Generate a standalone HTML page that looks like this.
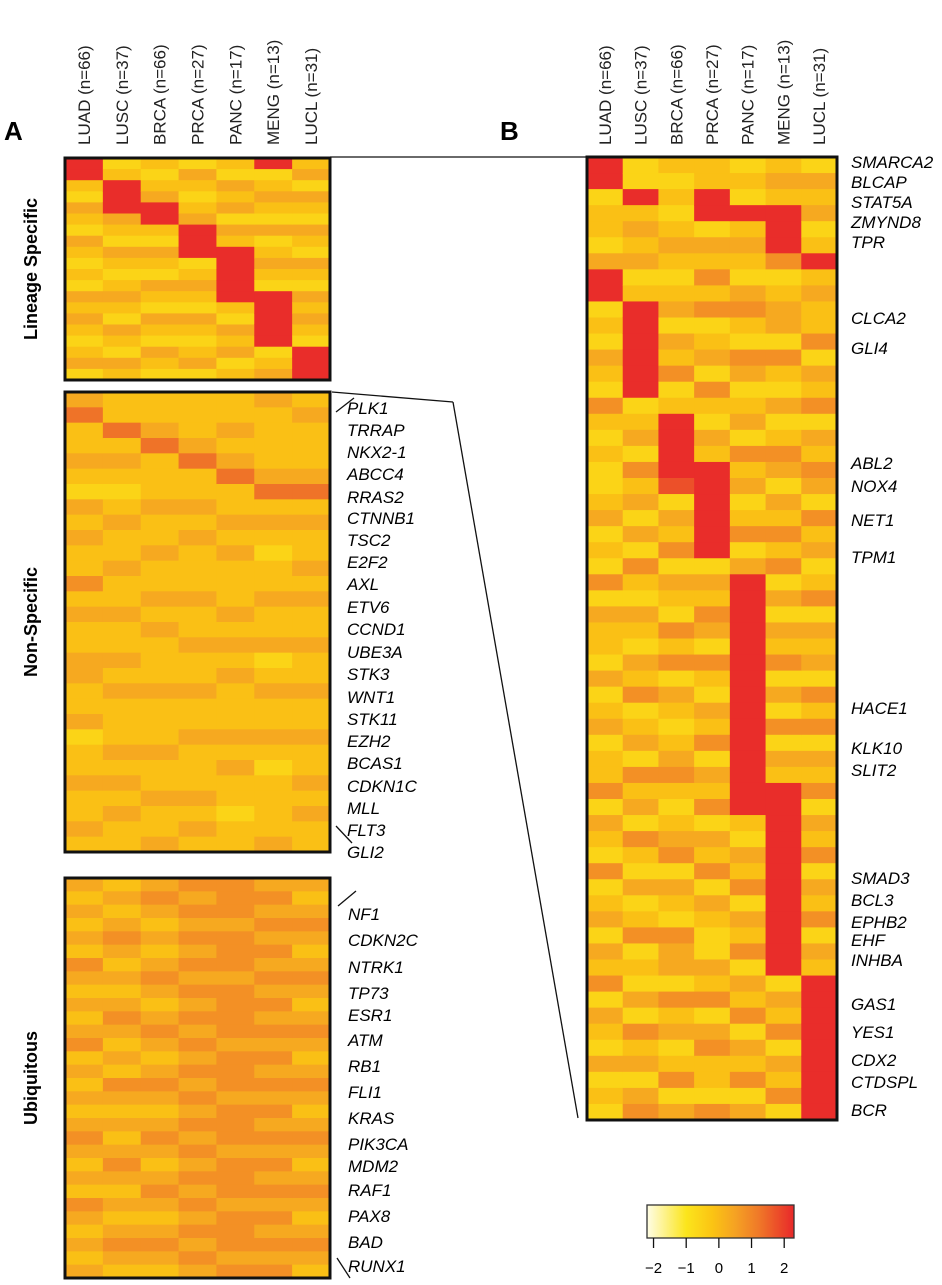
<!DOCTYPE html>
<html><head><meta charset="utf-8"><style>
body{margin:0;background:#fff;}
svg text{font-family:"Liberation Sans",sans-serif;}
</style></head><body>
<svg id="fig" width="942" height="1280" viewBox="0 0 942 1280" xmlns="http://www.w3.org/2000/svg">
<g id="cells"></g>
<g id="frames"></g>
<g id="labels"></g>
</svg>
<script>
const columns=["LUAD (n=66)","LUSC (n=37)","BRCA (n=66)","PRCA (n=27)","PANC (n=17)","MENG (n=13)","LUCL (n=31)"];
// digit d -> value -2 + d*0.47
const lineageVals=["99435435434354543453","34999543543454354354","43459943543543543543","35434599934543543453","43545354999994354534","93454353454399999345","45354354354354543999"];
const nonSpecVals=["574454354544645445544534454454","447454345445445445454445454544","445744454454454544454445445445","444574454544454454454454445454","445457445454445454544454544344","544445745434454453454454344445","454445745445454454454454454544"];
const ubiqVals=["545454654545645454565454654545","454565454565454654545654545654","565454565456545654565456545654","656565656565656565656565656565","666566656666566656665666566656","565656565656565656565656565656","545654565456545654565456545654"];
const panelBVals=[
"993443599343543643433453436354435345344635436345354635435343",
"339454534999999345364535364354354634536453643534634353645356",
"434345434535463499998354635436463543456434563543655364534635",
"449935464634536435499999935465364354635463546354335463564 36".replace(/ /g,"4"),
"343945435643653453645346359999999999999994354635463546354635",
"454999634553643534653546463535463536354999999999999354635463",
"354534945446354635465364534635453646354635463546354999999999"];
const geneNS=["PLK1","TRRAP","NKX2-1","ABCC4","RRAS2","CTNNB1","TSC2","E2F2","AXL","ETV6","CCND1","UBE3A","STK3","WNT1","STK11","EZH2","BCAS1","CDKN1C","MLL","FLT3","GLI2"];
const geneNSy=[408,430,452,474,497,518,540,562,584,607,629,652,674,697,719,741,763,786,808,830,852];
const geneUb=["NF1","CDKN2C","NTRK1","TP73","ESR1","ATM","RB1","FLI1","KRAS","PIK3CA","MDM2","RAF1","PAX8","BAD","RUNX1"];
const geneUby=[914,940,967,993,1015,1040,1066,1092,1118,1144,1166,1190,1216,1242,1266];
const geneB=["SMARCA2","BLCAP","STAT5A","ZMYND8","TPR","CLCA2","GLI4","ABL2","NOX4","NET1","TPM1","HACE1","KLK10","SLIT2","SMAD3","BCL3","EPHB2","EHF","INHBA","GAS1","YES1","CDX2","CTDSPL","BCR"];
const geneBy=[162,182,202,222,242,318,348,463,486,520,557,708,748,770,878,900,922,940,960,1004,1032,1060,1082,1110];
const scaleTicks=[-2,-1,0,1,2];

const NS="http://www.w3.org/2000/svg";
const stops=[[-2.2,[255,253,230]],[-1,[251,229,28]],[-0.2,[251,196,19]],[0.5,[245,162,35]],[1.2,[240,122,40]],[2.3,[232,40,42]]];
function color(v){
  if(v<=stops[0][0])return "rgb("+stops[0][1]+")";
  for(let i=1;i<stops.length;i++){if(v<=stops[i][0]){const a=stops[i-1],b=stops[i],t=(v-a[0])/(b[0]-a[0]);
    return "rgb("+a[1].map((c,k)=>Math.round(c+(b[1][k]-c)*t)).join(",")+")";}}
  return "rgb("+stops[stops.length-1][1]+")";
}
function el(tag,attrs,parent){const e=document.createElementNS(NS,tag);for(const k in attrs)e.setAttribute(k,attrs[k]);parent.appendChild(e);return e;}
const cells=document.getElementById('cells'),frames=document.getElementById('frames'),labels=document.getElementById('labels');
function drawPanel(name,vals,x0,x1,y0,y1){
  const g=el('g',{},cells);
  
  
  const cw=(x1-x0)/vals.length;
  vals.forEach((s,c)=>{const n=s.length,rh=(y1-y0)/n;
    for(let r=0;r<n;r++){const d=+s[r];
      const rc=el('rect',{x:x0+c*cw,y:y0+r*rh,width:cw+0.5,height:rh+0.5,fill:color(-2+d*0.47)},g);
      
      
    }});
  const f=el('rect',{x:x0,y:y0,width:x1-x0,height:y1-y0,fill:'none',stroke:'#111','stroke-width':3},frames);
  
  
}
drawPanel('lineage-specific-heatmap',lineageVals,65,330,158,380);
drawPanel('non-specific-heatmap',nonSpecVals,65,330,392,852);
drawPanel('ubiquitous-heatmap',ubiqVals,65,330,878,1278);
drawPanel('panel-b-heatmap',panelBVals,587,837,157,1120);

function text(str,x,y,attrs,name){const t=el('text',Object.assign({x:x,y:y},attrs),labels);t.textContent=str;
  
  return t;}
function colHeaders(x0,x1){const cw=(x1-x0)/columns.length;
  columns.forEach((c,i)=>{const cx=x0+cw*(i+0.5)+6,cy=145;
    text(c,cx,cy,{'font-size':17,transform:`rotate(-90 ${cx} ${cy})`,fill:'#222'},'column-header');});}
colHeaders(65,330);colHeaders(587,837);
text('A',4,140,{'font-size':26,'font-weight':'bold'},'panel-a-label');
text('B',500,140,{'font-size':26,'font-weight':'bold'},'panel-b-label');
[['Lineage Specific',269],['Non-Specific',622],['Ubiquitous',1078]].forEach(([s,y])=>{
  text(s,37,y,{'font-size':18,'font-weight':'bold','text-anchor':'middle',transform:`rotate(-90 37 ${y})`},'section-label');});
geneNS.forEach((g,i)=>text(g,347,geneNSy[i]+6,{'font-size':17,'font-style':'italic'},'gene-label'));
geneUb.forEach((g,i)=>text(g,348,geneUby[i]+6,{'font-size':17,'font-style':'italic'},'gene-label'));
geneB.forEach((g,i)=>text(g,851,geneBy[i]+6,{'font-size':17,'font-style':'italic'},'gene-label'));
function line(x1,y1,x2,y2,name){const l=el('line',{x1,y1,x2,y2,stroke:'#111','stroke-width':1.3},labels);
  
  }
line(330,157,587,157,'zoom-connector-top');
line(332,392,453,402,'zoom-connector-mid');
line(453,402,578,1118,'zoom-connector-bottom');
line(336,412,354,398,'label-leader');line(336,826,352,843,'label-leader');
line(338,906,356,891,'label-leader');line(337,1258,350,1278,'label-leader');
// color scale
const defs=el('defs',{},document.getElementById('fig'));
const lg=el('linearGradient',{id:'cs',x1:0,x2:1,y1:0,y2:0},defs);
const sx=v=>647+(v+2.2)/4.5*147;
stops.forEach(s=>el('stop',{offset:((s[0]+2.2)/4.5).toFixed(3),'stop-color':color(s[0])},lg));
const bar=el('rect',{x:647,y:1205,width:147,height:33,fill:'url(#cs)',stroke:'#333','stroke-width':1.3},labels);


scaleTicks.forEach(v=>{line(sx(v),1238,sx(v),1248,'color-scale-tick');
  text(v<0?'\u2212'+(-v):String(v),sx(v),1273,{'font-size':15,'text-anchor':'middle'},'color-scale-tick-label');});
</script>
</body></html>
